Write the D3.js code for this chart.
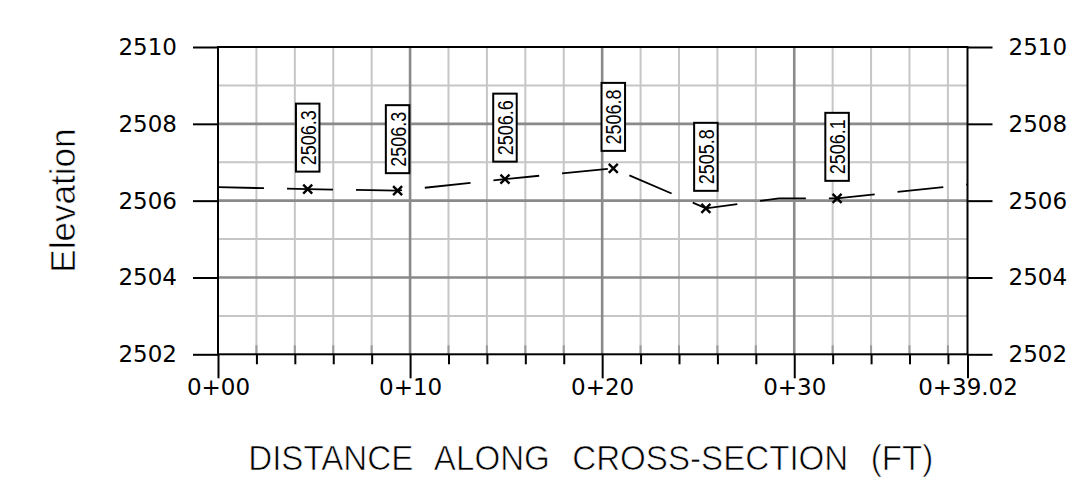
<!DOCTYPE html>
<html>
<head>
<meta charset="utf-8">
<script src="https://cdn.jsdelivr.net/npm/d3@7"></script>
<style>
  html, body { margin: 0; padding: 0; background: #ffffff; }
  svg { display: block; }
</style>
</head>
<body>
<svg id="chart" width="1078" height="487"></svg>
<script>
// ---- data ----
const xTickValues = [0, 10, 20, 30, 39.02];
const xTickLabels = ["0+00", "0+10", "0+20", "0+30", "0+39.02"];
const xMinorValues = [2, 4, 6, 8, 12, 14, 16, 18, 22, 24, 26, 28, 32, 34, 36, 38];
const yTickValues = [2502, 2504, 2506, 2508, 2510];
const yMinorValues = [2503, 2505, 2507, 2509];

// ground surface polyline (station ft, elevation)
const groundX = [0, 4.67, 9.35, 14.94, 20.58, 25.40, 29.20, 32.23, 39.02];
const groundY = [2506.35, 2506.30, 2506.26, 2506.56, 2506.84, 2505.80, 2506.06, 2506.06, 2506.42];

// labelled shots
const pointX = [4.67, 9.35, 14.94, 20.58, 25.40, 32.23];
const pointY = [2506.30, 2506.26, 2506.56, 2506.84, 2505.80, 2506.06];
const pointLabels = ["2506.3", "2506.3", "2506.6", "2506.8", "2505.8", "2506.1"];

const xTitle = "DISTANCE ALONG CROSS-SECTION (FT)";
const yTitle = "Elevation";

// ---- layout ----
const L = 218, R = 967.5, T = 47, B = 354.3;
const svg = d3.select("#chart");

const x = d3.scaleLinear().domain([0, 39.02]).range([L, R]);
const y = d3.scaleLinear().domain([2502, 2510]).range([B, T]);

const minorCol = "#c6c6c6", majorCol = "#8a8a8a";

// gridlines
const grid = svg.append("g");
grid.selectAll(".vminor").data(xMinorValues).enter().append("line")
  .attr("x1", d => x(d)).attr("x2", d => x(d)).attr("y1", T).attr("y2", B)
  .attr("stroke", minorCol).attr("stroke-width", 2);
grid.selectAll(".hminor").data(yMinorValues).enter().append("line")
  .attr("x1", L).attr("x2", R).attr("y1", d => y(d)).attr("y2", d => y(d))
  .attr("stroke", minorCol).attr("stroke-width", 2);
grid.selectAll(".vmajor").data(xTickValues.filter(v => v > 0 && v < 39.02)).enter().append("line")
  .attr("x1", d => x(d)).attr("x2", d => x(d)).attr("y1", T).attr("y2", B)
  .attr("stroke", majorCol).attr("stroke-width", 2.6);
grid.selectAll(".hmajor").data(yTickValues.filter(v => v > 2502 && v < 2510)).enter().append("line")
  .attr("x1", L).attr("x2", R).attr("y1", d => y(d)).attr("y2", d => y(d))
  .attr("stroke", majorCol).attr("stroke-width", 2.6);
// inner minor tick stubs
grid.selectAll(".stub").data(xMinorValues).enter().append("line")
  .attr("x1", d => x(d)).attr("x2", d => x(d)).attr("y1", B - 9).attr("y2", B)
  .attr("stroke", "#999999").attr("stroke-width", 2);

// border
svg.append("rect").attr("x", L).attr("y", T).attr("width", R - L).attr("height", B - T)
  .attr("fill", "none").attr("stroke", "#000").attr("stroke-width", 2);

const tickFont = "'DejaVu Sans', sans-serif";

function styleAxis(g) {
  g.select(".domain").remove();
  g.selectAll(".tick line").attr("stroke", "#000").attr("stroke-width", 2);
  g.selectAll(".tick text").attr("fill", "#000")
    .style("font-family", tickFont).style("font-size", "23px");
}

// left axis
svg.append("g").attr("transform", `translate(${L},0)`)
  .call(d3.axisLeft(y).tickValues(yTickValues).tickSize(25).tickPadding(16).tickFormat(d3.format("d")))
  .call(styleAxis);
// right axis
svg.append("g").attr("transform", `translate(${R},0)`)
  .call(d3.axisRight(y).tickValues(yTickValues).tickSize(25).tickPadding(16).tickFormat(d3.format("d")))
  .call(styleAxis);
// bottom axis, minor ticks
svg.append("g").attr("transform", `translate(0,${B})`)
  .call(d3.axisBottom(x).tickValues(xMinorValues).tickSize(10).tickFormat(""))
  .call(styleAxis);
// bottom axis, station ticks
const xAx = svg.append("g").attr("transform", `translate(0,${B})`)
  .call(d3.axisBottom(x).tickValues(xTickValues).tickSize(24).tickPadding(0)
        .tickFormat((d, i) => xTickLabels[i]))
  .call(styleAxis);
xAx.selectAll(".tick text").attr("y", 24.5);

// ground line
const line = d3.line().x(d => x(d[0])).y(d => y(d[1]));
svg.append("path").datum(groundX.map((gx, i) => [gx, groundY[i]]))
  .attr("d", line).attr("fill", "none").attr("stroke", "#000")
  .attr("stroke-width", 1.8).attr("stroke-dasharray", "46,23");

// markers
const pts = pointX.map((px, i) => ({ x: px, y: pointY[i], label: pointLabels[i] }));
const mk = svg.append("g").selectAll("g").data(pts).enter().append("g")
  .attr("transform", d => `translate(${x(d.x)},${y(d.y)})`);
const s = 4.5;
mk.append("path").attr("d", `M${-s},${-s}L${s},${s}M${-s},${s}L${s},${-s}`)
  .attr("stroke", "#000").attr("stroke-width", 2.4).attr("fill", "none");

// label boxes
const bw = 23.5, bh = 68, gap = 17.5;
const lb = svg.append("g").selectAll("g").data(pts).enter().append("g")
  .attr("transform", d => `translate(${x(d.x)},${y(d.y) - gap - bh / 2})`);
lb.append("rect").attr("x", -bw / 2).attr("y", -bh / 2).attr("width", bw).attr("height", bh)
  .attr("fill", "#fff").attr("stroke", "#000").attr("stroke-width", 2);
lb.append("text").attr("transform", "rotate(-90)")
  .attr("x", 0).attr("y", 0).attr("dy", "0.36em")
  .attr("text-anchor", "middle")
  .attr("textLength", 55).attr("lengthAdjust", "spacingAndGlyphs")
  .style("font-family", "'Liberation Sans', Arial, sans-serif").style("font-size", "22px")
  .text(d => d.label);

// y title
svg.append("text")
  .attr("transform", `translate(75,${(T + B) / 2}) rotate(-90)`)
  .attr("text-anchor", "middle")
  .style("font-family", "'Liberation Sans', Arial, sans-serif").style("font-size", "35px")
  .attr("fill", "#000").attr("stroke", "#fff").attr("stroke-width", 0.6)
  .text(yTitle);

// x title
svg.append("text")
  .attr("x", (L + R) / 2 - 2).attr("y", 470)
  .attr("text-anchor", "middle")
  .attr("textLength", 685).attr("lengthAdjust", "spacingAndGlyphs")
  .style("font-family", "'Liberation Sans', Arial, sans-serif").style("font-size", "35px")
  .style("word-spacing", "14px")
  .attr("fill", "#000").attr("stroke", "#fff").attr("stroke-width", 0.7)
  .text(xTitle);
</script>
</body>
</html>
